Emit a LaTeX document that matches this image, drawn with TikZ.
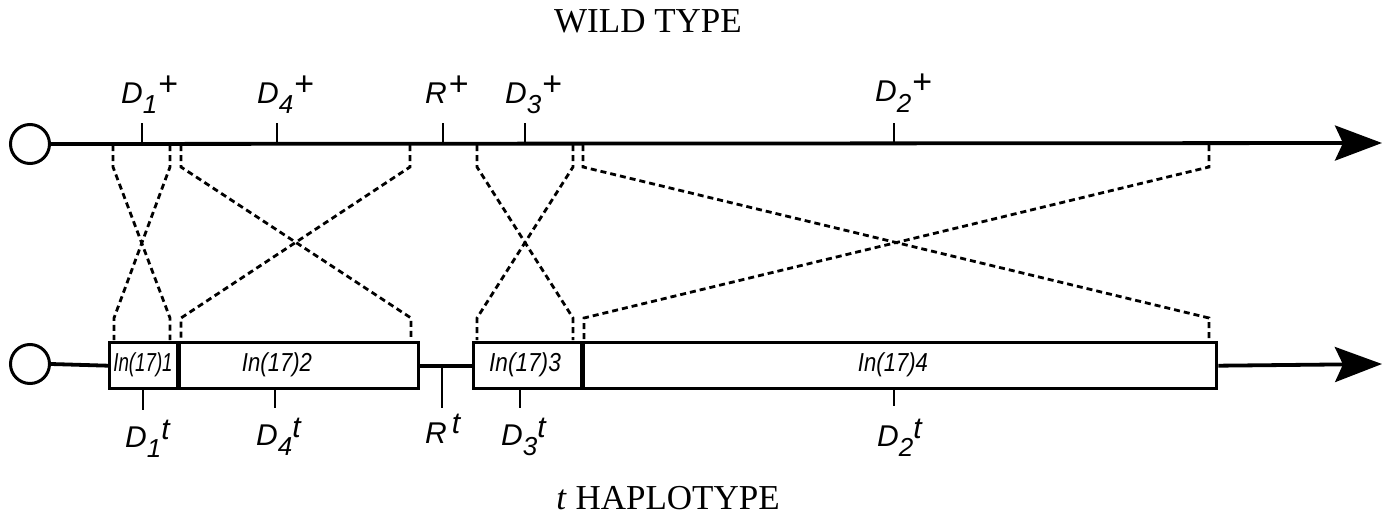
\documentclass[tikz,border=0pt]{standalone}
\usepackage{fontspec}
\setmainfont{Liberation Serif}
\newfontfamily\hv{Liberation Sans}
\usetikzlibrary{arrows.meta}
\newcommand\sbs[1]{\raisebox{-10pt}{\fontsize{26}{26}\selectfont #1}}
\newcommand\spl{\hspace{1pt}\raisebox{8pt}{\upshape\fontsize{34}{34}\selectfont +}}
\newcommand\spt{\raisebox{8pt}{\fontsize{30}{30}\selectfont t}}
\newcommand\inlab[2]{\scalebox{#1}[1]{#2}}
\tikzset{
  mline/.style={line width=3.8pt},
  tk/.style={line width=2.5pt},
  dsh/.style={line width=2.8pt, dash pattern=on 6pt off 4pt},
  ibox/.style={draw, line width=3.4pt, fill=white, inner sep=0pt, anchor=north west},
  lab/.style={inner sep=0pt, anchor=base west, font=\hv\itshape\fontsize{30}{30}\selectfont},
  inl/.style={inner sep=0pt, anchor=base, font=\hv\itshape\fontsize{26}{26}\selectfont},
  ttl/.style={inner sep=0pt, anchor=base, font=\fontsize{35}{35}\selectfont},
  circ/.style={circle, draw, line width=3pt, minimum size=39pt, inner sep=0pt},
  bigarrow/.style={-{Stealth[length=47pt, width=35pt, inset=8pt]}}
}
\begin{document}
\begin{tikzpicture}[x=1pt, y=-1pt]
\useasboundingbox (0,0) rectangle (1385,519);

% titles
\node[ttl] (wt) at (648,33) {WILD TYPE};
\node[ttl] (ht) at (668,509) {\textit{t} HAPLOTYPE};

% ---------- wild type line ----------
\node[circ] (wc) at (30,144) {};
\coordinate (wtip) at (1382,143);
\draw[mline, bigarrow] (wc.east) -- (wtip);

% top ticks
\foreach \n/\x in {d1/142, d4/277, r/443, d3/525, d2/894} {
  \coordinate (tt\n) at (\x,143);
  \draw[tk] (tt\n) -- ++(0,-20);
}

% top labels
\node[lab] (l1) at (121,103) {D\sbs{1}\spl};
\node[lab] (l4) at (257,103) {D\sbs{4}\spl};
\node[lab] (lr) at (425,103) {R\hspace{1pt}\spl};
\node[lab] (l3) at (505,103) {D\sbs{3}\spl};
\node[lab] (l2) at (875,102) {D\sbs{2}\spl};

% ---------- t haplotype ----------
\node[circ] (bc) at (30,364) {};
\node[ibox, minimum width=68pt, minimum height=46pt] (b1) at (108,341) {};
\node[ibox, minimum width=241pt, minimum height=46pt] (b2) at (176,341) {};
\node[ibox, minimum width=108pt, minimum height=46pt] (b3) at (472,341) {};
\node[ibox, minimum width=635pt, minimum height=46pt] (b4) at (580,341) {};
\coordinate (btip) at (1382,364);
\draw[mline] (bc.east) -- (b1.west);
\draw[mline] (b2.east) -- (b3.west);
\draw[mline, bigarrow] (b4.east) -- (btip);
% redraw shared edges
\draw[line width=3.4pt] (b1.north east) -- (b1.south east);
\draw[line width=3.4pt] (b3.north east) -- (b3.south east);

% box labels
\node[inl] (i1) at (143,371) {\inlab{0.72}{In(17)1}};
\node[inl] (i2) at (277,371) {\inlab{0.85}{In(17)2}};
\node[inl] (i3) at (525,371) {\inlab{0.87}{In(17)3}};
\node[inl] (i4) at (893,371) {\inlab{0.85}{In(17)4}};

% bottom ticks
\coordinate (bt1) at (143,387);
\coordinate (bt4) at (275,387);
\coordinate (btr) at (442,364);
\coordinate (bt3) at (520,387);
\coordinate (bt2) at (894,387);
\draw[tk] (bt1) -- ++(0,23);
\draw[tk] (bt4) -- ++(0,21);
\draw[tk] (btr) -- ++(0,44);
\draw[tk] (bt3) -- ++(0,21);
\draw[tk] (bt2) -- ++(0,19);

% bottom labels
\node[lab] (m1) at (125,447) {D\sbs{1}\spt};
\node[lab] (m4) at (256,445) {D\sbs{4}\spt};
\node[lab] (mr) at (425,443) {R\hspace{5pt}\raisebox{2pt}{\spt}};
\node[lab] (m3) at (501,445) {D\sbs{3}\spt};
\node[lab] (m2) at (877,446) {D\sbs{2}\spt};

% ---------- dashed correspondences ----------
\foreach \n/\x in {1/113, 2/170, 3/181, 4/410, 5/477, 6/573, 7/583, 8/1209} {
  \coordinate (T\n) at (\x,145);
}
\foreach \n/\x in {1/114, 2/170, 3/181, 4/411, 5/477, 6/573, 7/584, 8/1209} {
  \coordinate (B\n) at (\x,340);
}
\foreach \a/\b in {1/2, 2/1, 3/4, 4/3, 5/6, 6/5, 7/8, 8/7} {
  \draw[dsh] (T\a) -- ++(0,22) -- ([yshift=22pt]B\b) -- (B\b);
}
\end{tikzpicture}
\end{document}
